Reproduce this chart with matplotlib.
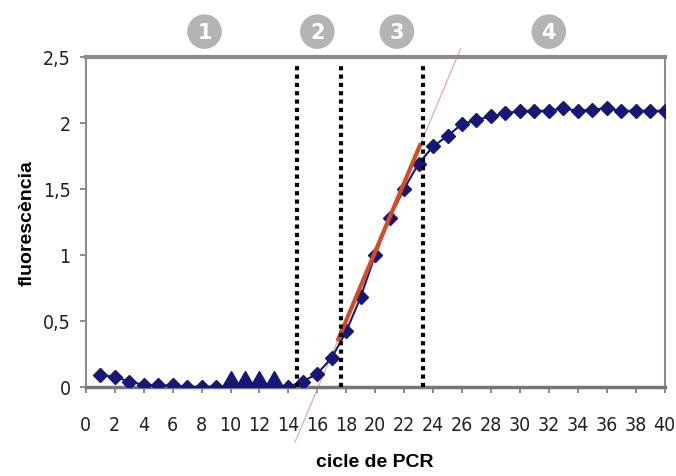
import matplotlib.pyplot as plt
import numpy as np

# %%
cycles = np.arange(1, 41)
fluor = [0.09, 0.075, 0.04, 0.015, 0.01, 0.01, 0.0, 0.0, 0.0, 0.01,
         0.01, 0.01, 0.01, 0.0, 0.04, 0.1, 0.22, 0.42, 0.68, 1.0,
         1.28, 1.5, 1.69, 1.82, 1.9, 1.99, 2.02, 2.05, 2.07, 2.09,
         2.09, 2.09, 2.11, 2.09, 2.1, 2.11, 2.09, 2.09, 2.09, 2.09]
big_pts = [10, 11, 12, 13]

phase_bounds = [14.6, 17.65, 23.3]
phase_labels = ["1", "2", "3", "4"]
phase_x = [8.2, 16.0, 21.5, 32.0]

fit_x = [17.45, 23.1]
fit_y = [0.36, 1.83]
ext_x = [14.45, 25.9]

xticks = np.arange(0, 41, 2)
yticks = [0, 0.5, 1, 1.5, 2, 2.5]
ytick_labels = ["0", "0,5", "1", "1,5", "2", "2,5"]

navy = "#17177a"

# %%
fig = plt.figure(figsize=(6.76, 4.77), dpi=100)
ax = fig.add_axes([0.127, 0.187, 0.856, 0.692])

ax.plot(cycles, fluor, color=navy, lw=1.5, marker="D", ms=7.2,
        mec=navy, mfc=navy, zorder=3)
sel = [c - 1 for c in big_pts]
ax.plot(cycles[sel], np.array(fluor)[sel], ls="none", marker="d", ms=14,
        color=navy, zorder=4)

# extension of the fit line (thin pink) and the fit itself
slope = (fit_y[1] - fit_y[0]) / (fit_x[1] - fit_x[0])
ext_y = [fit_y[0] + slope * (x - fit_x[0]) for x in ext_x]
ax.plot(ext_x, ext_y, color="#e8a0a0", lw=0.8, clip_on=False, zorder=2)
ax.plot(fit_x, fit_y, color="#d84a20", lw=3, zorder=5)

for xb in phase_bounds:
    ax.plot([xb, xb], [0, 2.43], color="black", lw=3, ls=(0, (1, 1)), zorder=6)

for xp, lab in zip(phase_x, phase_labels):
    ax.text(xp, 2.69, lab, ha="center", va="center", color="white",
            fontsize=15, fontweight="bold",
            bbox=dict(boxstyle="circle,pad=0.35", fc="#b4b4b4", ec="none"),
            clip_on=False)

ax.set_xlim(0, 40)
ax.set_ylim(0, 2.5)
ax.set_xticks(xticks)
ax.set_yticks(yticks)
ax.set_yticklabels(ytick_labels)

narrow = ["Liberation Sans Narrow", "DejaVu Sans"]
for lab in ax.get_xticklabels() + ax.get_yticklabels():
    lab.set_family(narrow)
    lab.set_stretch("condensed")
    lab.set_fontsize(14)
    lab.set_color("#222222")

ax.tick_params(direction="out", length=4, width=1.2, color="#777777")
ax.tick_params(axis="x", pad=16)
ax.tick_params(axis="y", pad=7)

ax.spines["top"].set_color("#8c8c8c")
ax.spines["top"].set_linewidth(3)
ax.spines["right"].set_color("#8c8c8c")
ax.spines["right"].set_linewidth(1.5)
ax.spines["left"].set_color("#8c8c8c")
ax.spines["left"].set_linewidth(1.5)
ax.spines["bottom"].set_color("#777777")
ax.spines["bottom"].set_linewidth(2.5)

ax.set_xlabel("cicle de PCR", fontsize=14, fontweight="bold",
              family=["Liberation Sans", "DejaVu Sans"], labelpad=14)
ax.set_ylabel("fluorescència", fontsize=14, fontweight="bold",
              family=["Liberation Sans", "DejaVu Sans"], labelpad=5)

fig.savefig("out.png", dpi=100)
